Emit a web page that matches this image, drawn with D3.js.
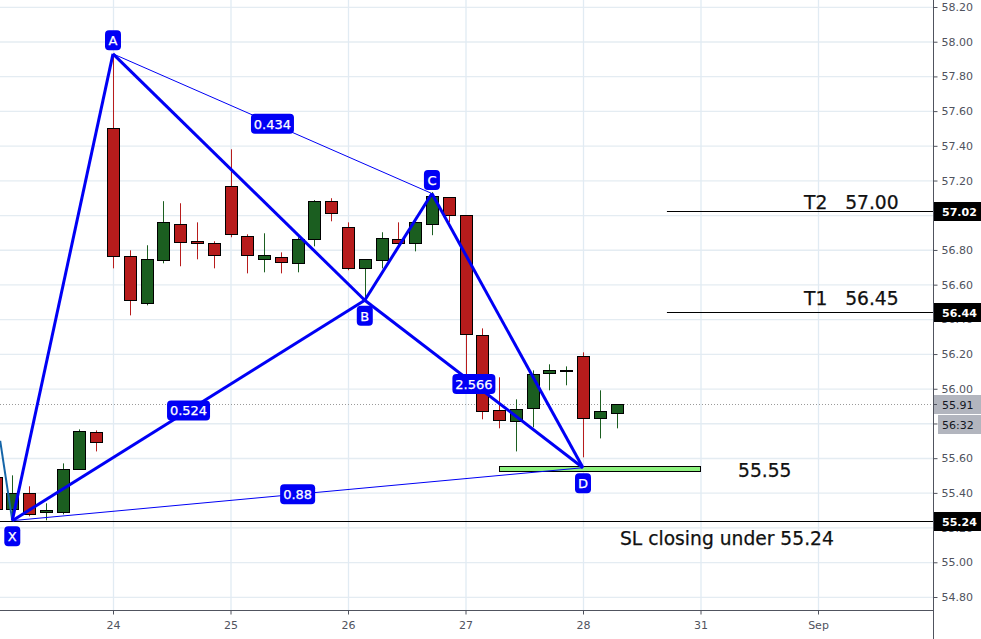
<!DOCTYPE html>
<html>
<head>
<meta charset="utf-8">
<script src="https://d3js.org/d3.v7.min.js"></script>
<style>
html, body { margin: 0; padding: 0; background: #fff; overflow: hidden; }
text { font-family: "DejaVu Sans", sans-serif; }
</style>
</head>
<body>
<script>
// bars, 7 per day, first one starts off the left edge
var barIndex = d3.range(-7, 31);
var opens  = [55.490,55.305,55.397,55.288,55.288,55.536,55.749,57.501,56.763,56.493,56.740,56.948,56.850,56.838,57.167,56.879,56.746,56.758,56.723,56.861,57.081,56.931,56.694,56.740,56.861,56.838,56.948,57.104,57.000,56.308,55.876,55.812,55.887,56.089,56.101,56.187,55.830,55.859];
var highs  = [55.490,55.501,55.438,55.340,55.570,55.766,55.760,57.928,56.798,56.827,57.081,57.069,56.959,56.850,57.380,56.890,56.896,56.786,56.873,57.087,57.098,56.959,56.746,56.902,56.959,56.971,57.133,57.104,57.000,56.348,56.066,55.939,56.106,56.141,56.129,56.210,55.991,55.910];
var lows   = [55.305,55.236,55.265,55.242,55.276,55.536,55.639,56.694,56.423,56.481,56.723,56.706,56.746,56.694,56.873,56.665,56.671,56.665,56.671,56.821,56.965,56.683,56.510,56.694,56.821,56.792,56.885,56.959,56.078,55.824,55.772,55.639,55.778,55.991,56.020,55.605,55.714,55.772];
var closes = [55.305,55.397,55.276,55.299,55.536,55.755,55.691,56.763,56.510,56.746,56.959,56.844,56.838,56.769,56.890,56.769,56.769,56.729,56.861,57.081,57.011,56.694,56.746,56.867,56.838,56.959,57.109,57.000,56.314,55.870,55.818,55.882,56.083,56.106,56.106,55.830,55.870,55.910];

var priceTicks = d3.range(0, 18).map(function(i) { return +(54.8 + i * 0.2).toFixed(2); });
var dayTicks = [0, 7, 14, 21, 28, 35, 42];
var dayLabels = ["24", "25", "26", "27", "28", "31", "Sep"];

// harmonic pattern
var pivotNames = ["X", "A", "B", "C", "D"];
var pivotBars = [-6, 0, 15, 19, 28];
var pivotPrices = [55.24, 57.93, 56.51, 57.125, 55.545];
var thickLegs = [["X","A"], ["A","B"], ["X","B"], ["B","C"], ["C","D"], ["B","D"]];
var thinLegs = [["A","C"], ["X","D"]];
var ratioLegs = [["A","C"], ["X","B"], ["X","D"], ["B","D"]];
var ratioLabels = ["0.434", "0.524", "0.88", "2.566"];

var levelPrices = [57.02, 56.44, 55.235];
var levelLabels = ["57.02", "56.44", "55.24"];
var levelStarts = [33, 33, -8];

var width = 981, height = 639, axisX = 933, axisY = 610;

var x = d3.scaleLinear().domain([0, 42]).range([113, 818]);
var y = d3.scaleLinear().domain([54.8, 58.2]).range([597, 7]);

var svg = d3.select("body").append("svg")
    .attr("width", width)
    .attr("height", height)
    .style("display", "block");

var plot = svg.append("svg").attr("width", axisX).attr("height", axisY);

// grid
plot.selectAll(".hgrid").data(priceTicks).enter().append("line")
    .attr("x1", 0).attr("x2", axisX)
    .attr("y1", function(d) { return y(d) + 0.3; })
    .attr("y2", function(d) { return y(d) + 0.3; })
    .attr("stroke", "#e4ecf2")
    .attr("stroke-width", 1.3);
plot.selectAll(".vgrid").data(dayTicks).enter().append("line")
    .attr("y1", 0).attr("y2", axisY)
    .attr("x1", function(d) { return x(d) + 0.5; })
    .attr("x2", function(d) { return x(d) + 0.5; })
    .attr("stroke", "#e1ebf3")
    .attr("stroke-width", 1.3);

// last price
plot.append("line")
    .attr("x1", 0).attr("x2", axisX)
    .attr("y1", Math.round(y(55.91)) + 0.5).attr("y2", Math.round(y(55.91)) + 0.5)
    .attr("stroke", "#9a9a9a")
    .attr("stroke-dasharray", "1,2");

// candles
var candles = plot.selectAll(".candle").data(barIndex).enter().append("g");
function colour(i) { return closes[i] < opens[i] ? "#b71c1c" : "#1b5e20"; }
candles.append("line")
    .attr("x1", function(d) { return Math.round(x(d)) + 0.5; })
    .attr("x2", function(d) { return Math.round(x(d)) + 0.5; })
    .attr("y1", function(d, i) { return y(highs[i]); })
    .attr("y2", function(d, i) { return y(lows[i]); })
    .attr("stroke", function(d, i) { return colour(i); })
    .attr("stroke-width", 1);
candles.append("rect")
    .attr("x", function(d) { return Math.round(x(d)) - 5.5; })
    .attr("width", 12)
    .attr("y", function(d, i) { return Math.round(y(Math.max(opens[i], closes[i]))) + 0.5; })
    .attr("height", function(d, i) {
      return Math.round(y(Math.min(opens[i], closes[i]))) - Math.round(y(Math.max(opens[i], closes[i])));
    })
    .attr("fill", function(d, i) { return colour(i); })
    .attr("stroke", "#000")
    .attr("stroke-width", 1);

// target zone
plot.append("rect")
    .attr("x", Math.round(x(23)) + 0.5).attr("width", Math.round(x(35) - x(23)))
    .attr("y", Math.round(y(55.553)) + 0.5).attr("height", Math.round(y(55.524) - y(55.553)))
    .attr("fill", "#8ef27e")
    .attr("stroke", "#000");

// levels
plot.selectAll(".level").data(levelPrices).enter().append("line")
    .attr("x1", function(d, i) { return x(levelStarts[i]); })
    .attr("x2", axisX)
    .attr("y1", function(d) { return Math.floor(y(d)) + 0.5; })
    .attr("y2", function(d) { return Math.floor(y(d)) + 0.5; })
    .attr("stroke", "#000");

// pattern
function pivot(name) {
  var i = pivotNames.indexOf(name);
  return [x(pivotBars[i]), y(pivotPrices[i])];
}
plot.append("line")
    .attr("x1", x(-6.72)).attr("y1", y(55.70))
    .attr("x2", pivot("X")[0]).attr("y2", pivot("X")[1])
    .attr("stroke", "#1565a8").attr("stroke-width", 2);
function drawLegs(legs, w) {
  plot.selectAll(null).data(legs).enter().append("line")
      .attr("x1", function(d) { return pivot(d[0])[0]; })
      .attr("y1", function(d) { return pivot(d[0])[1]; })
      .attr("x2", function(d) { return pivot(d[1])[0]; })
      .attr("y2", function(d) { return pivot(d[1])[1]; })
      .attr("stroke", "#0000f5")
      .attr("stroke-width", w);
}
drawLegs(thinLegs, 1);
drawLegs(thickLegs, 3);

// blue tags
function tag(cx, cy, w, label, size) {
  var g = svg.append("g");
  g.append("rect")
      .attr("x", cx - w / 2).attr("y", cy - 10)
      .attr("width", w).attr("height", 20)
      .attr("rx", 4)
      .attr("fill", "#0000f5");
  g.append("text")
      .attr("x", cx).attr("y", cy + 5)
      .attr("text-anchor", "middle")
      .attr("font-size", size)
      .attr("fill", "#fff")
      .attr("stroke", "#fff")
      .attr("stroke-width", 0.25)
      .text(label);
}
ratioLegs.forEach(function(leg, i) {
  var a = pivot(leg[0]), b = pivot(leg[1]);
  tag((a[0] + b[0]) / 2, (a[1] + b[1]) / 2, ratioLabels[i].length == 4 ? 35 : 43, ratioLabels[i], 13);
});
var tagBelow = { X: 1, B: 1, D: 1 };
pivotNames.forEach(function(n) {
  var p = pivot(n);
  tag(p[0], tagBelow[n] ? p[1] + 15.5 : p[1] - 13.5, 16, n, 13);
});

// notes
function note(px, py, s) {
  svg.append("text")
      .attr("x", px).attr("y", py)
      .attr("font-size", 18.7)
      .attr("fill", "#111")
      .attr("stroke", "#111")
      .attr("stroke-width", 0.25)
      .style("white-space", "pre")
      .text(s);
}
note(804, 209, "T2   57.00");
note(804, 305, "T1   56.45");
note(738, 477, "55.55");
note(620, 545, "SL closing under 55.24");

// axes
var yAxis = svg.append("g")
    .attr("transform", "translate(" + (axisX + 0.5) + ",0)")
    .call(d3.axisRight(y).tickValues(priceTicks).tickSize(4).tickPadding(4)
      .tickFormat(d3.format(".2f")));
var xAxis = svg.append("g")
    .attr("transform", "translate(0," + (axisY + 0.5) + ")")
    .call(d3.axisBottom(x).tickValues(dayTicks).tickSize(4).tickPadding(7)
      .tickFormat(function(d, i) { return dayLabels[i]; }));
yAxis.select(".domain").attr("d", "M0,0V" + height);
xAxis.select(".domain").attr("d", "M0,0H" + axisX);
[yAxis, xAxis].forEach(function(a) {
  a.select(".domain").attr("stroke", "#50535e");
  a.selectAll(".tick line").attr("stroke", "#50535e");
  a.selectAll(".tick text")
      .attr("fill", "#50535e")
      .attr("font-size", 11)
      .attr("font-family", '"DejaVu Sans", sans-serif');
});

// price labels on the axis
function priceTag(top, left, fill, colourText, s) {
  svg.append("rect")
      .attr("x", left).attr("y", top)
      .attr("width", width - left).attr("height", 19)
      .attr("fill", fill);
  svg.append("text")
      .attr("x", 942).attr("y", top + 14)
      .attr("font-size", 11)
      .attr("font-weight", colourText == "#fff" ? 700 : 400)
      .attr("fill", colourText)
      .text(s);
}
levelPrices.forEach(function(p, i) {
  priceTag(Math.floor(y(p)) - 9, axisX + 1, "#000", "#fff", levelLabels[i]);
});
priceTag(395, axisX + 1, "#b2b5be", "#131722", "55.91");
priceTag(415, 938, "#b2b5be", "#131722", "56:32");
svg.append("line")
    .attr("x1", axisX).attr("x2", axisX + 4)
    .attr("y1", Math.round(y(55.91)) + 0.5).attr("y2", Math.round(y(55.91)) + 0.5)
    .attr("stroke", "#50535e");
</script>
</body>
</html>
